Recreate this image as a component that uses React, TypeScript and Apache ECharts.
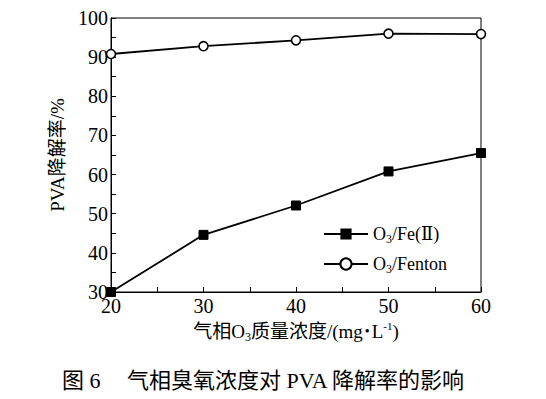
import React, { useEffect, useRef } from "react";
import * as echarts from "echarts";

const xValues = [20, 30, 40, 50, 60];
const feValues = [30, 44.6, 52.1, 60.8, 65.5];
const fentonValues = [90.8, 92.8, 94.3, 96.0, 95.9];
const seriesNames = ["O3/Fe(Ⅱ)", "O3/Fenton"];

const FONT = "Times New Roman, Liberation Serif, DejaVu Serif, Noto Sans CJK SC, serif";

export default function App() {
  const ref = useRef<HTMLDivElement>(null);
  useEffect(() => {
    if (!ref.current) return;
    const chart = echarts.init(ref.current, null, { renderer: "svg" });
    const toPairs = (v: number[]) => xValues.map((x, i) => [x, v[i]]);
    chart.setOption({
      animation: false,
      backgroundColor: "#fff",
      textStyle: { fontFamily: FONT, color: "#000" },
      grid: {
        left: 111,
        top: 18,
        right: 65,
        bottom: 107,
        show: true,
        borderColor: "#000",
        borderWidth: 1,
      },
      legend: {
        orient: "vertical",
        left: 318,
        top: 220,
        itemWidth: 44,
        itemHeight: 14,
        itemGap: 10,
        data: seriesNames,
        textStyle: {
          fontFamily: FONT,
          fontSize: 18,
          color: "#000",
          rich: {
            n: { fontFamily: FONT, fontSize: 18, color: "#000" },
            s: { fontFamily: FONT, fontSize: 12, color: "#000", verticalAlign: "bottom", padding: [10, 0, 0, 0] },
          },
        },
        formatter: (name: string) => {
          const rest = name.slice(2);
          return "{n|O}{s|3}{n|" + rest + "}";
        },
      },
      xAxis: {
        type: "value",
        min: 20,
        max: 60,
        interval: 10,
        name: "{n|气相O}{s|3}{n|质量浓度/(mg}{d|•}{n|L}{u|-1}{n|)}",
        nameLocation: "middle",
        nameGap: 24,
        nameTextStyle: {
          rich: {
            n: { fontFamily: FONT, fontSize: 19, color: "#000" },
            d: { fontFamily: FONT, fontSize: 14, color: "#000", padding: [0, 2, 0, 2] },
            s: { fontFamily: FONT, fontSize: 12, color: "#000", verticalAlign: "bottom", padding: [10, 0, 0, 0] },
            u: { fontFamily: FONT, fontSize: 11, color: "#000", verticalAlign: "top", padding: [0, 0, 8, 0] },
          },
        },
        axisLine: { lineStyle: { color: "#000", width: 1 } },
        axisTick: { inside: true, length: 5, lineStyle: { color: "#000" } },
        minorTick: { show: true, splitNumber: 2, length: 5, lineStyle: { color: "#000" } },
        axisLabel: { fontFamily: FONT, fontSize: 20, color: "#000", margin: 4 },
        splitLine: { show: false },
      },
      yAxis: {
        type: "value",
        min: 30,
        max: 100,
        interval: 10,
        name: "PVA降解率/%",
        nameLocation: "middle",
        nameGap: 41,
        nameTextStyle: { fontFamily: FONT, fontSize: 19, color: "#000" },
        axisLine: { lineStyle: { color: "#000", width: 1 } },
        axisTick: { inside: true, length: 5, lineStyle: { color: "#000" } },
        minorTick: { show: true, splitNumber: 2, length: 5, lineStyle: { color: "#000" } },
        axisLabel: { fontFamily: FONT, fontSize: 20, color: "#000", margin: 3 },
        splitLine: { show: false },
      },
      series: [
        {
          name: seriesNames[0],
          type: "line",
          data: toPairs(feValues),
          symbol: "rect",
          symbolSize: 9,
          lineStyle: { color: "#000", width: 1.8 },
          itemStyle: { color: "#000", borderColor: "#000" },
        },
        {
          name: seriesNames[1],
          type: "line",
          data: toPairs(fentonValues),
          symbol: "circle",
          symbolSize: 9,
          lineStyle: { color: "#000", width: 1.8 },
          itemStyle: { color: "#fff", borderColor: "#000", borderWidth: 1.6 },
        },
      ],
      graphic: [
        {
          type: "text",
          left: 62,
          top: 369,
          style: { text: "图 6", font: "22px " + FONT, fill: "#000" },
        },
        {
          type: "text",
          left: 127,
          top: 369,
          style: { text: "气相臭氧浓度对 PVA 降解率的影响", font: "22px " + FONT, fill: "#000" },
        },
      ],
    });
    return () => chart.dispose();
  }, []);
  return <div ref={ref} style={{ width: 546, height: 399, position: "absolute", left: 0, top: 0 }} />;
}
